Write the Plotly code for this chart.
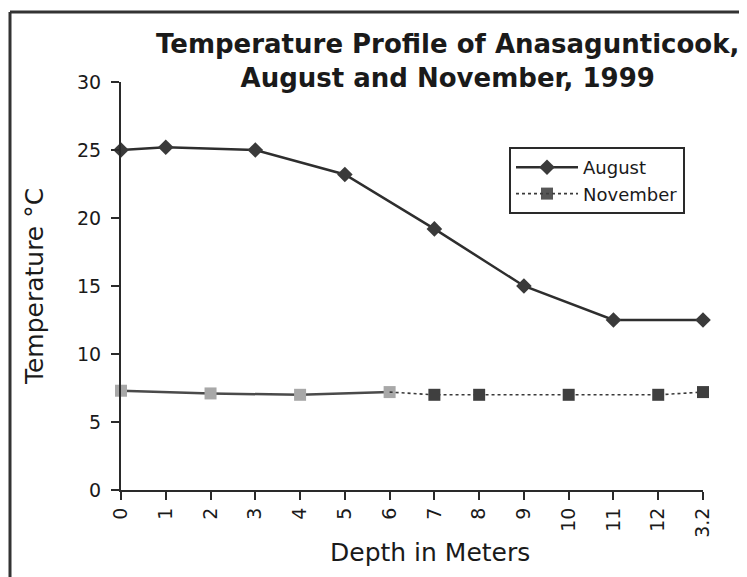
import plotly.graph_objects as go

depth_labels = ["0", "1", "2", "3", "4", "5", "6", "7", "8", "9", "10", "11", "12", "3.2"]
august_temp = [25.0, 25.2, None, 25.0, None, 23.2, None, 19.2, None, 15.0, None, 12.5, None, 12.5]
november_temp = [7.3, None, 7.1, None, 7.0, None, 7.2, 7.0, 7.0, None, 7.0, None, 7.0, 7.2]

split = 6
font_main = "DejaVu Sans"

# plot area in page pixels: x 121..703, y 82..490 (page body has 8px margin)
PL, PR, PT, PB = 121, 703, 82, 490
PW, PH = PR - PL, PB - PT

fig = go.Figure()

fig.add_trace(go.Scatter(
    x=depth_labels, y=august_temp, name="August", mode="lines+markers",
    connectgaps=True, cliponaxis=False,
    line=dict(color="#2e2e2e", width=2.5),
    marker=dict(symbol="diamond", size=12, color="#3a3a3a"),
))

fig.add_trace(go.Scatter(
    x=depth_labels[:split + 1], y=november_temp[:split + 1], name="November",
    mode="lines+markers", connectgaps=True, cliponaxis=False, showlegend=False,
    line=dict(color="#4a4a4a", width=2.5),
    marker=dict(symbol="square", size=12, color="#a8a8a8"),
))

fig.add_trace(go.Scatter(
    x=depth_labels[split:], y=november_temp[split:], name="November",
    mode="lines+markers", connectgaps=True, cliponaxis=False,
    line=dict(color="#3a3a3a", width=1.6, dash="dot"),
    marker=dict(symbol="square", size=12, color="#3f3f3f",
                opacity=[0] + [1] * (len(depth_labels) - split - 1)),
))

fig.update_layout(
    width=747, height=577,
    paper_bgcolor="white", plot_bgcolor="white",
    margin=dict(l=PL - 8, r=747 + 8 - PR, t=PT - 8, b=577 + 8 - PB),
    legend=dict(
        x=(509 - PL) / PW, y=(PB - 147) / PH, xanchor="left", yanchor="top",
        bgcolor="white", bordercolor="#2a2a2a", borderwidth=2,
        font=dict(family=font_main, size=18, color="#1a1a1a"),
        itemwidth=62, tracegroupgap=0,
    ),
    showlegend=True,
)

fig.add_annotation(
    text="<b>Temperature Profile of Anasagunticook,<br>August and November, 1999</b>",
    xref="paper", yref="paper", x=(447 - PL) / PW, y=(PB - 27) / PH,
    xanchor="center", yanchor="top", showarrow=False, align="center",
    font=dict(family=font_main, size=26, color="#1a1a1a"),
)

fig.add_annotation(
    text="Depth in Meters",
    xref="paper", yref="paper", x=(430 - PL) / PW, y=(PB - 552) / PH,
    xanchor="center", yanchor="middle", showarrow=False,
    font=dict(family=font_main, size=25, color="#1a1a1a"),
)

fig.update_xaxes(
    type="category", categoryorder="array", categoryarray=depth_labels,
    range=[0, len(depth_labels) - 1],
    showline=True, linecolor="#2a2a2a", linewidth=2,
    ticks="outside", ticklen=8, tickwidth=1.5, tickcolor="#2a2a2a",
    tickangle=-90, showgrid=False, zeroline=False,
    tickfont=dict(family=font_main, size=19, color="#1a1a1a"),
)

fig.update_yaxes(
    range=[0, 30], tickvals=[0, 5, 10, 15, 20, 25, 30],
    showline=True, linecolor="#2a2a2a", linewidth=2,
    ticks="outside", ticklen=8, tickwidth=1.5, tickcolor="#2a2a2a",
    ticklabelstandoff=6,
    showgrid=False, zeroline=False,
    tickfont=dict(family=font_main, size=19, color="#1a1a1a"),
    title=dict(text="Temperature °C", standoff=26,
               font=dict(family=font_main, size=25, color="#1a1a1a")),
)

# outer frame (left and top edges)
fx = (10 - PL) / PW
fy = (PB - 12) / PH
fig.add_shape(type="line", xref="paper", yref="paper",
              x0=fx, x1=fx, y0=fy, y1=(PB - 600) / PH,
              line=dict(color="#333333", width=3))
fig.add_shape(type="line", xref="paper", yref="paper",
              x0=fx, x1=(770 - PL) / PW, y0=fy, y1=fy,
              line=dict(color="#333333", width=3))

fig.write_html("out.html")
